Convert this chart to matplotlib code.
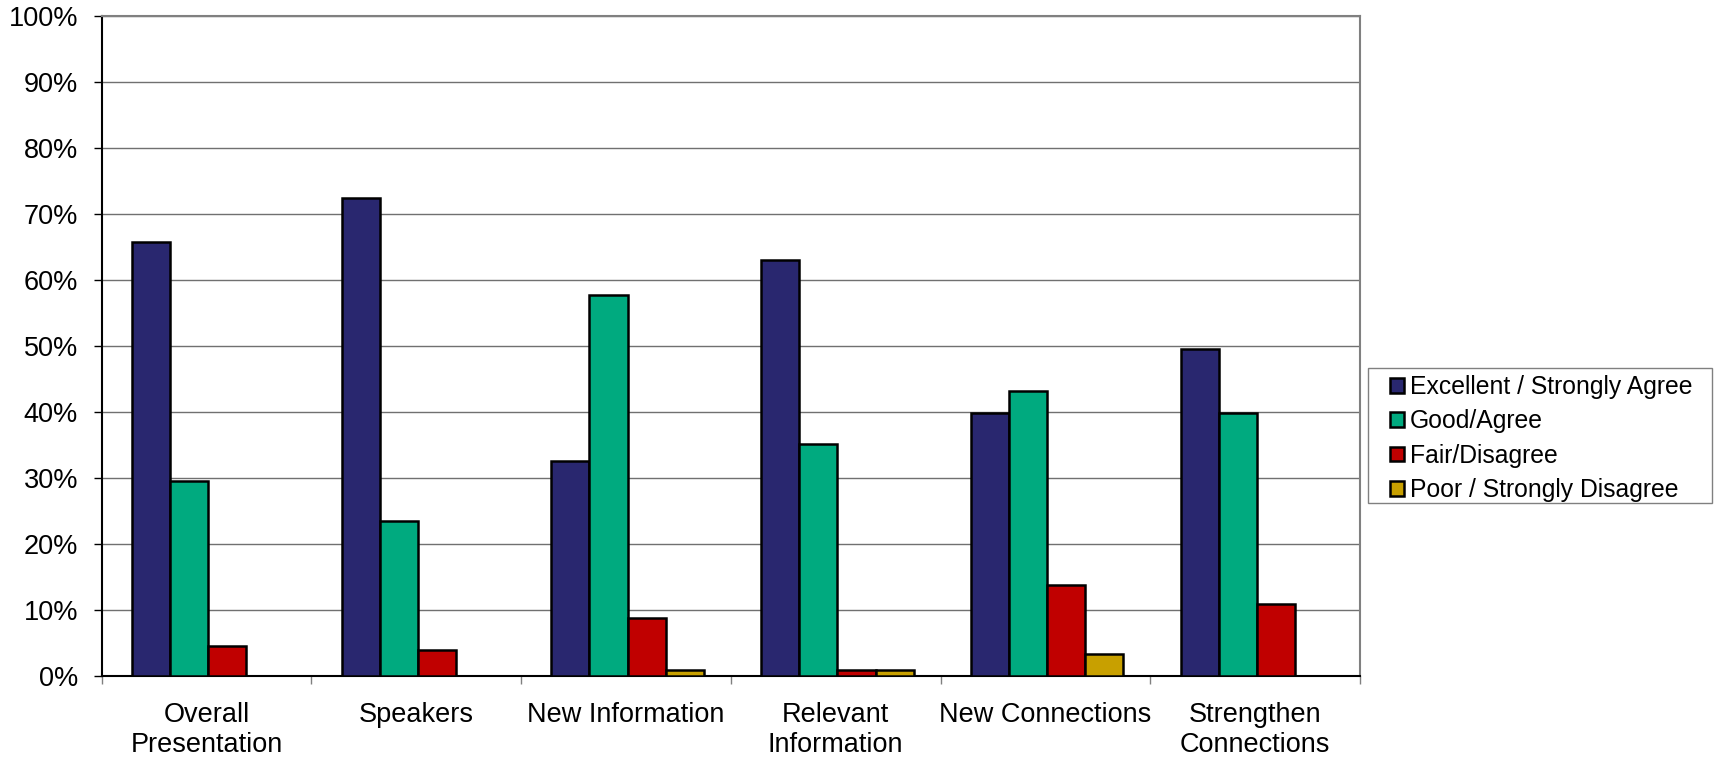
import numpy as np
import matplotlib
matplotlib.use("Agg")
import matplotlib.pyplot as plt
from matplotlib.patches import Rectangle
from matplotlib.ticker import PercentFormatter

# -----------------------------
# Data (percent of responses)
# -----------------------------
categories = ["Overall\nPresentation", "Speakers", "New Information",
              "Relevant\nInformation", "New Connections", "Strengthen\nConnections"]
series_names = ["Excellent / Strongly Agree", "Good/Agree",
                "Fair/Disagree", "Poor / Strongly Disagree"]
excellent = [65.8, 72.4, 32.5, 63.0, 39.8, 49.5]
good = [29.5, 23.5, 57.7, 35.1, 43.1, 39.8]
fair = [4.5, 3.9, 8.7, 0.9, 13.7, 10.8]
poor = [0.0, 0.0, 0.9, 0.9, 3.3, 0.0]
colors = ["#29276F", "#00AA7F", "#C00000", "#C8A000"]

# -----------------------------
# Chart
# -----------------------------
plt.rcParams["font.family"] = ["Liberation Sans", "DejaVu Sans"]

fig = plt.figure(figsize=(17.14, 7.59), dpi=100)
ax = fig.add_axes([0.0593, 0.110, 0.7342, 0.8684])

x = np.arange(len(categories)) + 0.5
width = 0.182
all_series = [excellent, good, fair, poor]
for i, (vals, name, col) in enumerate(zip(all_series, series_names, colors)):
    offset = (i - 1.5) * width
    ax.bar(x + offset + 0.008, vals, width=width, color=col, edgecolor="black",
           linewidth=1.8, label=name, zorder=3)

ax.set_xlim(0, len(categories))
ax.set_ylim(0, 100)
ax.set_yticks(np.arange(0, 101, 10))
ax.yaxis.set_major_formatter(PercentFormatter(decimals=0))
ax.yaxis.grid(True, color="#707070", linewidth=1.0, zorder=0)

# category labels sit between the boundary ticks
ax.set_xticks(np.arange(0, len(categories) + 1))
ax.set_xticklabels([])
ax.set_xticks(x, minor=True)
ax.set_xticklabels(categories, minor=True, fontsize=19.5, linespacing=1.2)
ax.tick_params(axis="x", which="minor", length=0, pad=19)
ax.tick_params(axis="x", which="major", length=6, width=1, color="#808080")
ax.tick_params(axis="y", length=6, width=1, labelsize=19.5, pad=11)

for side in ["top", "right"]:
    ax.spines[side].set_color("#808080")
    ax.spines[side].set_linewidth(1.5)
for side in ["left", "bottom"]:
    ax.spines[side].set_color("black")
    ax.spines[side].set_linewidth(1.5)

# legend entries without frame, box drawn separately (wider side padding)
leg = fig.legend(loc="upper left", bbox_to_anchor=(1390 / 1714, 1 - 375 / 759),
                 fontsize=17.8, frameon=False,
                 handlelength=0.55, handleheight=0.55, handletextpad=0.25,
                 labelspacing=0.42, borderpad=0, borderaxespad=0)
fig.patches.append(Rectangle((1368 / 1714, 1 - 503 / 759), 344 / 1714, 135 / 759,
                             transform=fig.transFigure, fill=False,
                             edgecolor="#808080", linewidth=1.0))

fig.savefig("out.png", dpi=100)
